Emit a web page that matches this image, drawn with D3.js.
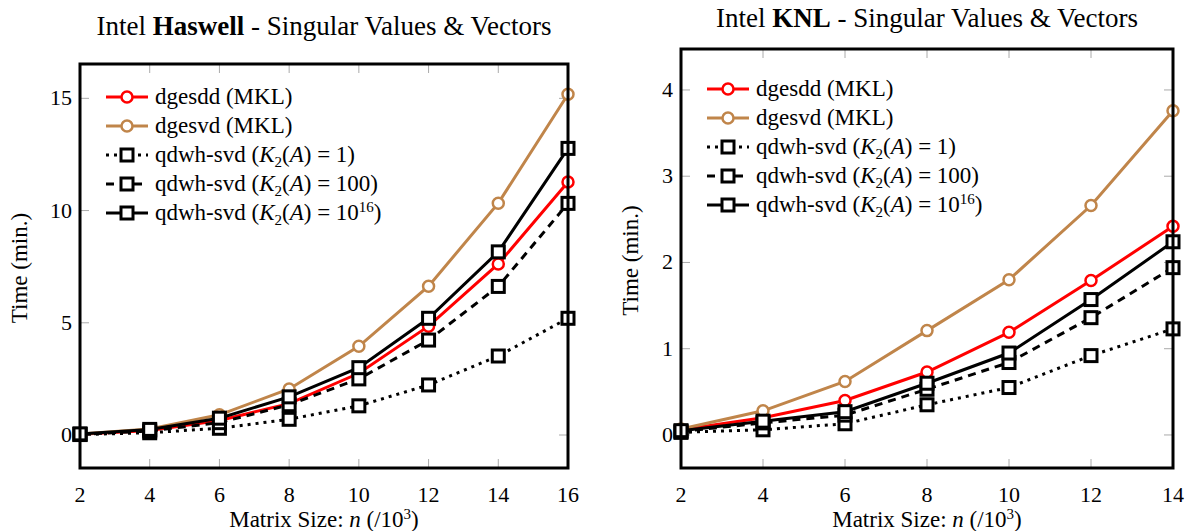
<!DOCTYPE html>
<html>
<head>
<meta charset="utf-8">
<script src="https://cdn.jsdelivr.net/npm/d3@7"></script>
<style>
  body { margin: 0; background: white; }
</style>
</head>
<body>
<div class="fig"></div>
<script>
// matrix sizes (/10^3)
var haswellN = [2, 4, 6, 8, 10, 12, 14, 16];
var knlN = [2, 4, 6, 8, 10, 12, 14];

// Haswell timings (min.)
var hasDgesdd = [0.03, 0.2, 0.65, 1.4, 2.75, 4.85, 7.62, 11.27];
var hasDgesvd = [0.05, 0.27, 0.9, 2.05, 3.95, 6.63, 10.33, 15.18];
var hasQ1 = [0.02, 0.1, 0.3, 0.7, 1.3, 2.23, 3.52, 5.2];
var hasQ100 = [0.03, 0.18, 0.55, 1.35, 2.5, 4.23, 6.62, 10.32];
var hasQ1e16 = [0.05, 0.25, 0.75, 1.7, 3.0, 5.2, 8.16, 12.77];

// KNL timings (min.)
var knlDgesdd = [0.06, 0.2, 0.4, 0.73, 1.19, 1.79, 2.42];
var knlDgesvd = [0.07, 0.28, 0.62, 1.21, 1.8, 2.66, 3.76];
var knlQ1 = [0.03, 0.06, 0.13, 0.35, 0.55, 0.92, 1.23];
var knlQ100 = [0.04, 0.14, 0.23, 0.53, 0.84, 1.36, 1.94];
var knlQ1e16 = [0.05, 0.16, 0.27, 0.6, 0.95, 1.57, 2.24];

var hasYTicks = [0, 5, 10, 15];
var knlYTicks = [0, 1, 2, 3, 4];

// legend labels, split in parts for italics / sub / sup
var legendLabels = [
  [{t: "dgesdd (MKL)"}],
  [{t: "dgesvd (MKL)"}],
  [{t: "qdwh-svd ("}, {t: "K", i: 1}, {t: "2", sub: 1}, {t: "("}, {t: "A", i: 1}, {t: ") = 1)"}],
  [{t: "qdwh-svd ("}, {t: "K", i: 1}, {t: "2", sub: 1}, {t: "("}, {t: "A", i: 1}, {t: ") = 100)"}],
  [{t: "qdwh-svd ("}, {t: "K", i: 1}, {t: "2", sub: 1}, {t: "("}, {t: "A", i: 1}, {t: ") = 10"}, {t: "16", sup: 1}, {t: ")"}]
];

var styles = [
  {color: "#ff0000", dash: null, mark: "circle"},
  {color: "#c0854a", dash: null, mark: "circle"},
  {color: "#000", dash: "3,5", mark: "square"},
  {color: "#000", dash: "8,6", mark: "square"},
  {color: "#000", dash: null, mark: "square"}
];

var FONT = "'Liberation Serif', 'DejaVu Serif', serif";
var W = 1192, H = 531;
var svg = d3.select(".fig").append("svg")
  .attr("width", W).attr("height", H)
  .attr("font-family", FONT);

function richText(sel, parts) {
  parts.forEach(function(p, k) {
    var ts = sel.append("tspan").text(p.t);
    if (p.i) ts.attr("font-style", "italic");
    if (p.sub) ts.attr("dy", 5).attr("font-size", 15);
    if (p.sup) ts.attr("dy", -8).attr("font-size", 15);
    var prev = parts[k - 1];
    if (prev && prev.sub) ts.attr("dy", -5);
    if (prev && prev.sup) ts.attr("dy", 8);
  });
}

function panel(opt) {
  var x = d3.scaleLinear().domain([opt.n[0], opt.n[opt.n.length - 1]]).range([opt.left, opt.right]);
  var y = d3.scaleLinear().domain(opt.ydom).range([opt.bottom, opt.top]);
  var g = svg.append("g");

  // title
  var title = g.append("text")
    .attr("x", (opt.left + opt.right) / 2)
    .attr("y", opt.titleY)
    .attr("text-anchor", "middle")
    .attr("font-size", 27);
  title.append("tspan").text("Intel ");
  title.append("tspan").text(opt.name).attr("font-weight", "bold");
  title.append("tspan").text(" - Singular Values & Vectors");

  // grey inner ticks
  var tk = g.append("g").attr("stroke", "#aaa").attr("stroke-width", 1);
  opt.n.forEach(function(v) {
    tk.append("line").attr("x1", x(v)).attr("x2", x(v)).attr("y1", opt.bottom).attr("y2", opt.bottom - 9);
    tk.append("line").attr("x1", x(v)).attr("x2", x(v)).attr("y1", opt.top).attr("y2", opt.top + 9);
  });
  opt.yticks.forEach(function(v) {
    tk.append("line").attr("y1", y(v)).attr("y2", y(v)).attr("x1", opt.left).attr("x2", opt.left + 9);
    tk.append("line").attr("y1", y(v)).attr("y2", y(v)).attr("x1", opt.right).attr("x2", opt.right - 9);
  });

  // tick labels
  g.append("g").selectAll("text").data(opt.n).enter().append("text")
    .attr("x", d => x(d)).attr("y", opt.bottom + 34)
    .attr("text-anchor", "middle").attr("font-size", 22)
    .text(d => d);
  g.append("g").selectAll("text").data(opt.yticks).enter().append("text")
    .attr("x", opt.left - 8).attr("y", d => y(d) + 7)
    .attr("text-anchor", "end").attr("font-size", 22)
    .text(d => d);

  // axis labels
  var xl = g.append("text")
    .attr("x", (opt.left + opt.right) / 2).attr("y", opt.bottom + 59)
    .attr("text-anchor", "middle").attr("font-size", 23);
  richText(xl, [{t: "Matrix Size: "}, {t: "n", i: 1}, {t: " (/10"}, {t: "3", sup: 1}, {t: ")"}]);

  g.append("text")
    .attr("transform", "translate(" + opt.ylabX + "," + ((opt.top + opt.bottom) / 2 + 2) + ") rotate(-90)")
    .attr("text-anchor", "middle").attr("font-size", 23)
    .text("Time (min.)");

  // series
  var line = d3.line().x(d => x(d[0])).y(d => y(d[1]));
  opt.series.forEach(function(vals, s) {
    var st = styles[s];
    var pts = opt.n.map((v, k) => [v, vals[k]]);
    g.append("path").datum(pts)
      .attr("d", line)
      .attr("fill", "none")
      .attr("stroke", st.color)
      .attr("stroke-width", 3)
      .attr("stroke-dasharray", st.dash);
    drawMarks(g, pts.map(p => [x(p[0]), y(p[1])]), st);
  });

  // legend
  var lg = g.append("g").attr("transform", "translate(" + opt.legX + "," + opt.legY + ")");
  legendLabels.forEach(function(parts, s) {
    var st = styles[s];
    var row = lg.append("g").attr("transform", "translate(0," + (s * 29) + ")");
    row.append("line").attr("x1", 0).attr("x2", 42).attr("y1", 0).attr("y2", 0)
      .attr("stroke", st.color).attr("stroke-width", 3)
      .attr("stroke-dasharray", st.dash);
    drawMarks(row, [[21, 0]], st);
    var t = row.append("text").attr("x", 49).attr("y", 7).attr("font-size", 23);
    richText(t, parts);
  });

  // frame
  g.append("rect")
    .attr("x", opt.left).attr("y", opt.top)
    .attr("width", opt.right - opt.left).attr("height", opt.bottom - opt.top)
    .attr("fill", "none").attr("stroke", "#000").attr("stroke-width", 3);
}

function drawMarks(g, pts, st) {
  if (st.mark == "circle") {
    g.append("g").selectAll("circle").data(pts).enter().append("circle")
      .attr("cx", d => d[0]).attr("cy", d => d[1]).attr("r", 5.5)
      .attr("fill", "white").attr("stroke", st.color).attr("stroke-width", 2.5);
  } else {
    g.append("g").selectAll("rect").data(pts).enter().append("rect")
      .attr("x", d => d[0] - 6).attr("y", d => d[1] - 6)
      .attr("width", 12).attr("height", 12)
      .attr("fill", "white").attr("stroke", st.color).attr("stroke-width", 3);
  }
}

panel({
  name: "Haswell", n: haswellN,
  series: [hasDgesdd, hasDgesvd, hasQ1, hasQ100, hasQ1e16],
  left: 80, right: 568, top: 64, bottom: 468,
  ydom: [-1.47, 16.53], yticks: hasYTicks,
  titleY: 35, ylabX: 27, legX: 106, legY: 97
});

panel({
  name: "KNL", n: knlN,
  series: [knlDgesdd, knlDgesvd, knlQ1, knlQ100, knlQ1e16],
  left: 681, right: 1173, top: 49, bottom: 468,
  ydom: [-0.383, 4.475], yticks: knlYTicks,
  titleY: 27, ylabX: 638, legX: 707, legY: 89
});
</script>
</body>
</html>
